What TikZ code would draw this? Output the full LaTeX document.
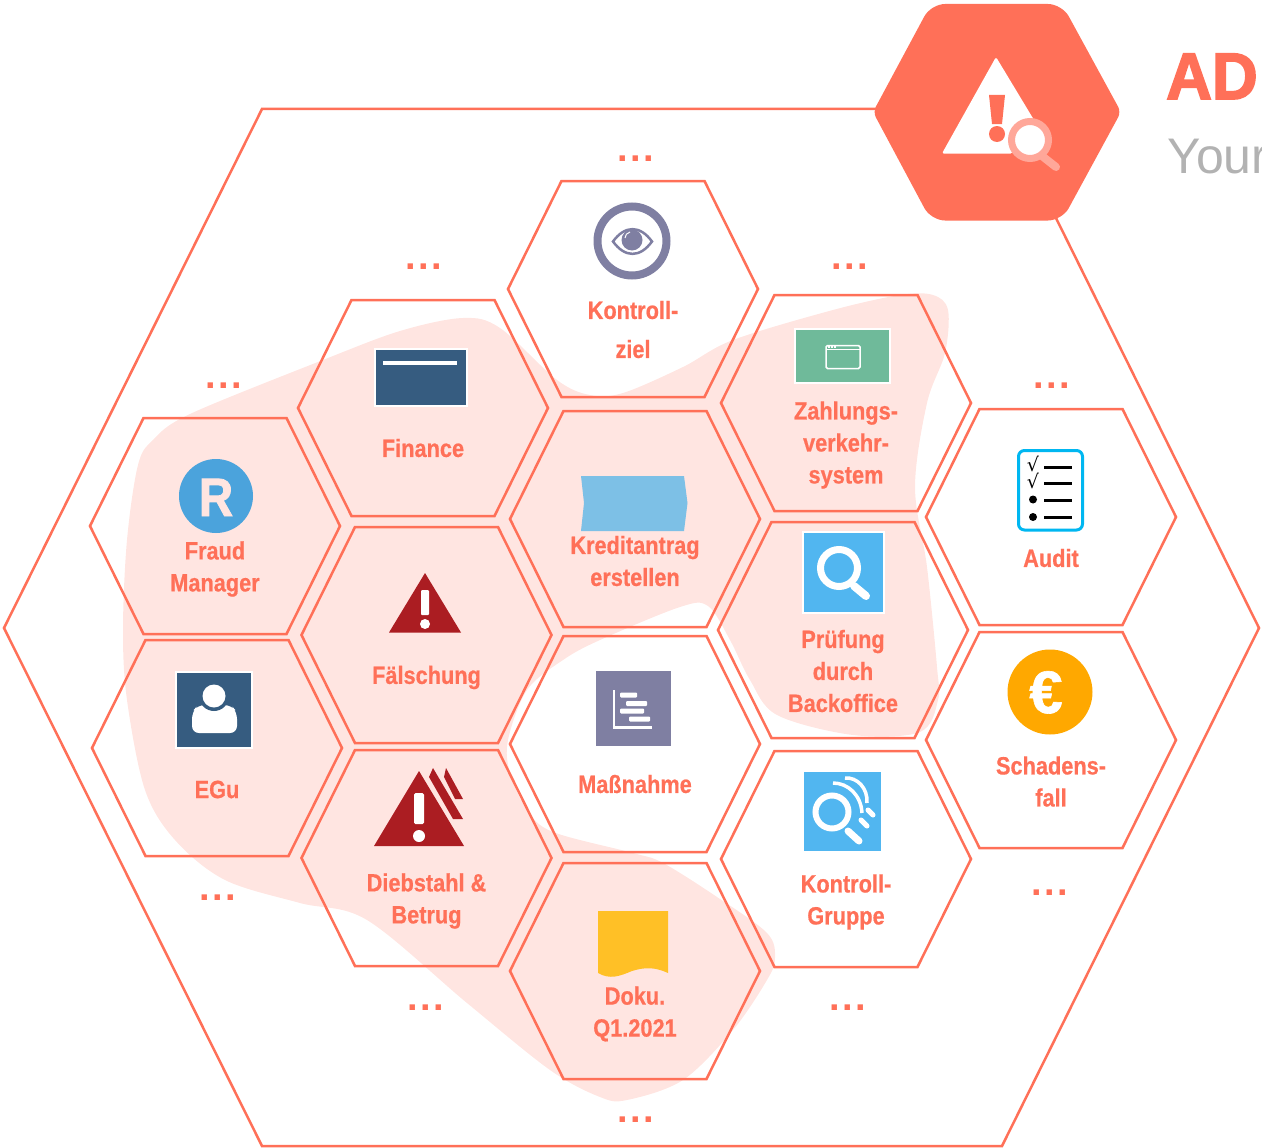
\documentclass[tikz,border=0pt]{standalone}
\usepackage{fontspec}
\setmainfont{Liberation Sans}
\newfontfamily\lblfont[FakeStretch=0.87,FakeBold=0.6]{Liberation Sans Bold}
\newfontfamily\rfont[FakeStretch=0.88,FakeBold=1.5]{Liberation Sans Bold}
\newfontfamily\dotfont[LetterSpace=6]{Liberation Sans Bold}
\newfontfamily\symfont{DejaVu Sans}
\newfontfamily\titlefont[FakeStretch=0.96,FakeBold=2.5]{Liberation Sans Bold}
\newfontfamily\eurofont[FakeBold=1]{Liberation Sans Bold}
\definecolor{coral}{HTML}{FF7058}
\definecolor{blush}{HTML}{FFE5E1}
\definecolor{navy}{HTML}{365C80}
\definecolor{slate}{HTML}{7F7FA2}
\definecolor{sky}{HTML}{51B6F0}
\definecolor{crimson}{HTML}{AB1D22}
\definecolor{sage}{HTML}{6FBA9A}
\definecolor{ribbon}{HTML}{7DC0E6}
\definecolor{rblue}{HTML}{4BA3DC}
\definecolor{note}{HTML}{FFC026}
\definecolor{cyanline}{HTML}{00B7F1}
\definecolor{amber}{HTML}{FFA800}
\definecolor{lens}{HTML}{FFA799}
\tikzset{
  x=1pt,y=-1pt,
  hexline/.style={draw=coral,line width=2.5pt,line join=miter},
  lbl/.style={font=\lblfont\fontsize{25}{32}\selectfont,text=coral,align=center,inner sep=0pt},
  dots/.style={font=\dotfont\fontsize{38}{38}\selectfont,text=coral,inner sep=0pt,anchor=base},
  iconbox/.style={draw=white,line width=1.5pt},
  auditrule/.style={draw=black,line width=3pt},
}
\newcommand{\hexa}[3]{%
  \draw[hexline] (#2-125,#3) -- (#2-71.5,#3-108) -- (#2+71.5,#3-108) -- (#2+125,#3) -- (#2+71.5,#3+108) -- (#2-71.5,#3+108) -- cycle;
  \coordinate (#1) at (#2,#3);}
\begin{document}
\begin{tikzpicture}
\useasboundingbox (0,0) rectangle (1262,1148);
\clip (0,0) rectangle (1262,1148);
% blob
\fill[blush] plot[smooth cycle,tension=0.55] coordinates {
 (153,440) (190,414) (323,360) (400,331) (463,318) (500,328) (557,380) (590,395) (623,393) (683,367) (733,340)
 (833,310) (900,295) (933,295) (948,310) (945,353) (927,403) (915,487) (927,567) (937,667) (938,700) (920,732)
 (853,735) (777,715) (750,680) (730,640) (708,606) (680,607) (600,640) (563,660) (527,690) (508,740) (510,773)
 (527,810) (553,832) (633,853) (663,863) (717,897) (767,933) (775,958) (767,980) (733,1030) (683,1080) (627,1100)
 (600,1097) (550,1070) (467,1003) (367,920) (300,903) (225,880) (175,840) (145,790) (127,700) (123,630) (127,540) (138,465)};
% outer hexagon
\draw[hexline] (4,628) -- (262,109) -- (1002,109) -- (1259,628) -- (1002,1146) -- (262,1146) -- cycle;
% hexagons
\hexa{hk}{633}{289}
\hexa{hf}{423}{408}
\hexa{hm}{215}{526}
\hexa{hs}{426.5}{635}
\hexa{he}{217}{748}
\hexa{hd}{426.5}{858}
\hexa{hc}{635}{519}
\hexa{hn}{635}{744}
\hexa{hq}{635}{971}
\hexa{hz}{846}{403}
\hexa{hp}{843}{630}
\hexa{hg}{846}{859}
\hexa{ha}{1051}{517}
\hexa{hl}{1051}{740}
% header hexagon
\fill[coral] (997,4) [rounded corners=14pt] -- (1062,4) [rounded corners=6pt] -- (1121,112) [rounded corners=14pt] -- (1062,220.5) -- (931,220.5) [rounded corners=6pt] -- (873,112) [rounded corners=14pt] -- (931,4) [sharp corners] -- cycle;
\fill[white,rounded corners=1.5pt] (996,57) -- (1034,120) -- (1012,153.5) -- (942,153.5) -- cycle;
\fill[coral] (989,95) -- (1005,95) -- (1002,124) -- (992,124) -- cycle;
\fill[coral] (997,134) circle (8);
\draw[draw=lens,line width=8pt,line cap=round] (1042,156) -- (1056,167);
\draw[draw=lens,fill=white,line width=7pt] (1030,140) circle (18.5);
\node[font=\titlefont\fontsize{66}{66}\selectfont,text=coral,anchor=base west,inner sep=0pt] (title) at (1166,99) {AD};
\node[font=\fontsize{50}{50}\selectfont,text=black!30,anchor=base west,inner sep=0pt] (subtitle) at (1167,173) {Your};
% eye icon
\draw[slate,line width=8pt] (632,241) circle (34.5);
\draw[slate,line width=2.5pt] (613,241.5) .. controls (625,225) and (640,225) .. (652,241.5) .. controls (640,258) and (625,258) .. (613,241.5) -- cycle;
\fill[slate] (632,240) circle (10.5);
\draw[white,line width=1pt] (625,238) .. controls (625,235) and (627,233) .. (630,232);
% finance
\fill[navy,iconbox] (375,349) rectangle (467,406);
\draw[white,line width=3.5pt] (383,363) -- (457,363);
% payment system
\fill[sage,iconbox] (795,329) rectangle (890,383);
\draw[white,line width=1.5pt,rounded corners=1.5pt] (826,345.5) rectangle (860,368.5);
\draw[white,line width=1pt] (826,349.5) -- (860,349.5);
\fill[white] (828,346) rectangle (830,348);
\fill[white] (831,346) rectangle (833,348);
\fill[white] (834,346) rectangle (836,348);
% credit chevron
\fill[ribbon] (581,476) -- (684,476) -- (687.5,503) -- (684,531) -- (581,531) -- (584,503) -- cycle;
% Fraud R
\fill[rblue] (216,496) circle (37);
\node[font=\rfont\fontsize{54}{54}\selectfont,text=blush,inner sep=0pt,anchor=base] (rlogo) at (216,516) {R};
% warning forgery
\fill[crimson] (425,573) -- (461,632.5) -- (389,632.5) -- cycle;
\fill[white,rounded corners=1pt] (421,590) rectangle (429,615);
\fill[white] (425,624) circle (5);
% EGu
\fill[navy,iconbox] (176,672) rectangle (252,748);
\fill[white,rounded corners=7pt] (192,733) -- (192,712) -- (198,705) -- (231,705) -- (237,712) -- (237,733) -- cycle;
\fill[navy] (214,696) circle (15);
\fill[white] (214,696) circle (11.5);
% theft
\fill[crimson] (419,771) -- (464,846) -- (374,846) -- cycle;
\fill[white,rounded corners=1.5pt] (414,793) rectangle (424,824);
\fill[white] (419,836) circle (6);
\fill[crimson] (433,768) -- (463,819) -- (453,819) -- (429,777) -- cycle;
\fill[crimson] (446,768) -- (463,799) -- (455,799) -- (444,777) -- cycle;
% measure
\fill[slate] (596,671) rectangle (671,746);
\draw[white,line width=2.2pt] (614,690) -- (614,727.5) -- (652,727.5);
\fill[white,rounded corners=1pt] (620,692.5) rectangle (637,697.5);
\fill[white,rounded corners=1pt] (626,701) rectangle (647,706);
\fill[white,rounded corners=1pt] (620,708.5) rectangle (644,713.5);
\fill[white,rounded corners=1pt] (629,716.5) rectangle (650,721.5);
% document
\fill[note] (598,911) -- (668,911) -- (668,973) .. controls (655,967) and (645,967) .. (632,971) .. controls (620,976) and (610,980) .. (598,973) -- cycle;
% Pruefung
\fill[sky,iconbox] (803,532) rectangle (884,613);
\draw[white,line width=7pt] (839,568) circle (18.5);
\draw[white,line width=8pt,line cap=round] (854,586) -- (866,596);
% Kontroll-Gruppe
\fill[sky] (804,772) rectangle (881,851);
\draw[white,line width=3.5pt] (833,783) .. controls (848,783) and (861,795) .. (862,813);
\draw[white,line width=3.5pt] (845,778) .. controls (857,777) and (868,788) .. (867,803);
\draw[sky,line width=3pt] (832,812) circle (21);
\draw[white,line width=6pt] (832,812) circle (16.5);
\draw[white,line width=7pt,line cap=round] (848,831) -- (859,841);
\draw[white,line width=5pt,line cap=round] (861,820) -- (867,826);
\draw[white,line width=5pt,line cap=round] (868,810) -- (873,815);
% Audit
\draw[draw=cyanline,line width=3pt,fill=white,rounded corners=6pt] (1018.5,450.5) rectangle (1082.5,530);
\node[font=\symfont\fontsize{19}{19}\selectfont,inner sep=0pt] (ck1) at (1033,464) {√};
\node[font=\symfont\fontsize{19}{19}\selectfont,inner sep=0pt] (ck2) at (1033,481) {√};
\fill (1033,499.5) circle (4);
\fill (1033,517) circle (4);
\draw[auditrule] (1044,467) -- (1072,467);
\draw[auditrule] (1044,483.5) -- (1072,483.5);
\draw[auditrule] (1044,500.5) -- (1072,500.5);
\draw[auditrule] (1044,517.5) -- (1072,517.5);
% Euro
\fill[amber] (1050,692) circle (42.5);
\node[font=\eurofont\fontsize{60}{60}\selectfont,text=white,inner sep=0pt,anchor=base] (euro) at (1046,713) {€};
% labels
\node[lbl] (l1) at (633,310) {Kontroll-};
\node[lbl] (l1b) at (633,349) {ziel};
\node[lbl] (l2) at (423,448) {Finance};
\node[lbl] (l3) at (215,569) {Fraud\\Manager};
\node[lbl] (l4) at (426.5,677.5) {Fälschung};
\node[lbl] (l5) at (217,789.5) {EGu};
\node[lbl] (l6) at (426.5,901) {Diebstahl \&\\Betrug};
\node[lbl] (l7) at (635,561) {Kreditantrag\\erstellen};
\node[lbl] (l8) at (635,784) {Maßnahme};
\node[lbl] (l9) at (635,1014) {Doku.\\Q1.2021};
\node[lbl] (l10) at (846,445) {Zahlungs-\\verkehr-\\system};
\node[lbl] (l11) at (843,671) {Prüfung\\durch\\Backoffice};
\node[lbl] (l12) at (846,902) {Kontroll-\\Gruppe};
\node[lbl] (l13) at (1051,558) {Audit};
\node[lbl] (l14) at (1051,781.5) {Schadens-\\fall};
% ellipses
\node[dots] (d1) at (636,161) {...};
\node[dots] (d2) at (424,269) {...};
\node[dots] (d3) at (850,269) {...};
\node[dots] (d4) at (224,388) {...};
\node[dots] (d5) at (1052,388) {...};
\node[dots] (d6) at (218,900) {...};
\node[dots] (d7) at (1050,895) {...};
\node[dots] (d8) at (426,1010) {...};
\node[dots] (d9) at (848,1010) {...};
\node[dots] (d10) at (636,1122) {...};
\end{tikzpicture}
\end{document}
